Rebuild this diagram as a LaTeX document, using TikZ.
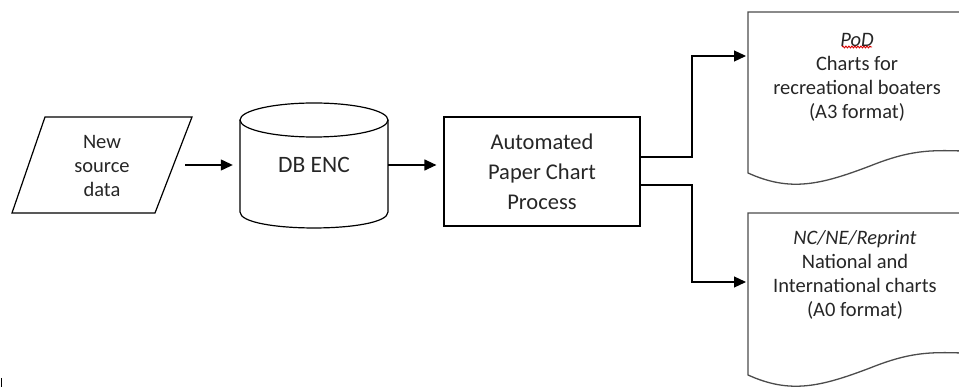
\documentclass[tikz,border=0pt]{standalone}
\usepackage{fontspec}
\setmainfont{Carlito}
\usetikzlibrary{arrows.meta,decorations.pathmorphing,calc}
\begin{document}
\begin{tikzpicture}[x=1pt,y=-1pt,
  shapeline/.style={line width=1.2pt,draw=black},
  docline/.style={line width=1.3pt,draw=black!70},
  arr/.style={line width=1.2pt,-{Triangle[length=12pt,width=11pt]}},
  txt/.style={align=center,text=black!85,inner sep=0pt},
  f20/.style={font=\fontsize{20.5}{24}\selectfont},
  f22/.style={font=\fontsize{22.5}{30}\selectfont},
  f23/.style={font=\fontsize{23.5}{28}\selectfont}]
\useasboundingbox (0,0) rectangle (959,387);
% source data (parallelogram)
\draw[shapeline] (45,117) -- (192,117) -- (155,213) -- (12,213) -- cycle;
\node[txt,f20,minimum width=166pt,minimum height=96pt] (src) at (102,166) {New\\source\\data};
% DB ENC cylinder
\draw[shapeline] (314,120) ellipse [x radius=74pt, y radius=17pt];
\draw[shapeline] (240,120) -- (240,212) .. controls (240,233.3) and (388,233.3) .. (388,212) -- (388,120);
\node[txt,f23,minimum width=148pt,minimum height=20pt] (db) at (314,165) {DB ENC};
% process box
\node[draw,shapeline,txt,f22,minimum width=196pt,minimum height=109pt] (proc) at (542,171.5) {Automated\\Paper Chart\\Process};
% documents
\draw[docline] (962,12) -- (748,12) -- (748,173)
  .. controls (790,192) and (820,185) .. (870,166)
  .. controls (910,150) and (930,150) .. (962,151);
\draw[docline] (962,213) -- (748,213) -- (748,375)
  .. controls (790,394) and (820,387) .. (870,368)
  .. controls (910,352) and (930,352) .. (962,353);
\node[txt,f20] (doc1) at (857,77) {\textit{PoD}\\Charts for\\recreational boaters\\(A3 format)};
\node[txt,f20] (doc2) at (855,275) {\textit{NC/NE/Reprint}\\National and\\International charts\\(A0 format)};
\draw[red!85!black,line width=0.9pt,decorate,decoration={snake,amplitude=0.9pt,segment length=3pt}]
  (842,47) -- (872,47);
\coordinate (d1in) at (748,56);
\coordinate (d2in) at (748,282);
% connectors
\draw[arr,shorten >=7pt] (185,165) coordinate (srcout) -- (srcout -| db.west);
\draw[arr,shorten >=7pt] (db.east) -- (db.east -| proc.west);
\draw[arr,shorten >=2pt] ([yshift=14.5pt]proc.east) -- (692,157) |- (d1in);
\draw[arr,shorten >=2pt] ([yshift=-13.5pt]proc.east) -- (692,185) |- (d2in);
% small mark bottom-left
\draw[line width=1pt] (1,378) -- (1,387);
\end{tikzpicture}
\end{document}
